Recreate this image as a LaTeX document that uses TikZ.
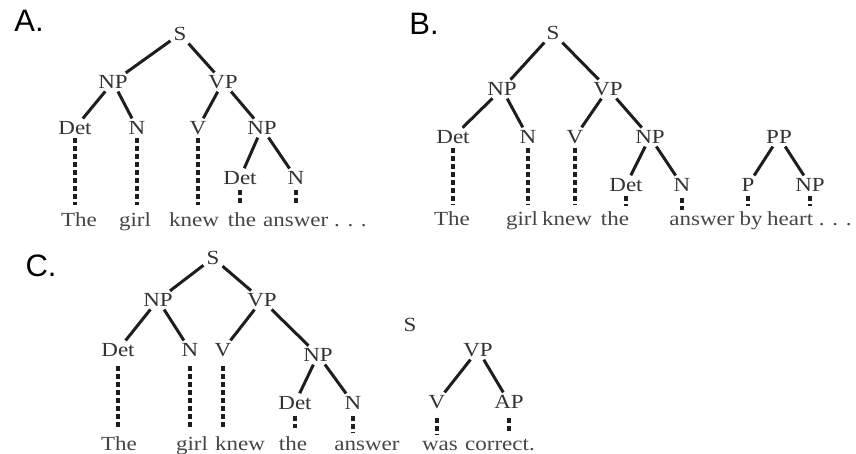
\documentclass[tikz,border=0pt]{standalone}
\usepackage{fontspec}
\setmainfont{Liberation Serif}
\newfontfamily\labelfont{Liberation Sans}
\definecolor{inkline}{HTML}{1E1E1E}
\definecolor{inktag}{HTML}{333333}
\definecolor{inkword}{HTML}{454545}
\begin{document}
\begin{tikzpicture}[x=1pt,y=-1pt,
  cat/.style={font=\fontsize{20}{22}\selectfont, text=inktag, inner sep=1.5pt, xscale=1.15},
  word/.style={font=\fontsize{20}{22}\selectfont, text=inkword, inner sep=0pt, anchor=base, xscale=1.15},
  panel/.style={font=\labelfont\fontsize{31}{34}\selectfont, text=black, inner sep=0pt},
  branch/.style={draw=inkline, line width=3pt, shorten <=1.5pt, shorten >=1.5pt},
  lexlink/.style={draw=inkline, line width=3.3pt, dash pattern=on 5pt off 3pt}]
\useasboundingbox (0,0) rectangle (856,453);

% ---------------- panel A ----------------
\node[panel] (labA) at (29,21) {A.};
\node[cat] (aS)    at (180,34)  {S};
\node[cat] (aNP)   at (113,82)  {NP};
\node[cat] (aVP)   at (223,82)  {VP};
\node[cat] (aDet)  at (75,128)  {Det};
\node[cat] (aN)    at (137,128) {N};
\node[cat] (aV)    at (198,128) {V};
\node[cat] (aNP2)  at (262,128) {NP};
\node[cat] (aDet2) at (240,178) {Det};
\node[cat] (aN2)   at (296,178) {N};
\node[word] (aw1) at (79,226)  {The};
\node[word] (aw2) at (135,226) {girl};
\node[word] (aw3) at (194,226) {knew};
\node[word] (aw4) at (242,226) {the};
\node[word, anchor=base west] (aw5) at (263,226) {answer . . .};
\draw[branch] (aS) -- (aNP);
\draw[branch] (aS) -- (aVP);
\draw[branch] (aNP) -- (aDet);
\draw[branch] (aNP) -- (aN);
\draw[branch] (aVP) -- (aV);
\draw[branch] (aVP) -- (aNP2);
\draw[branch] (aNP2) -- (aDet2);
\draw[branch] (aNP2) -- (aN2);
\draw[lexlink] (aDet.south) ++(0,2) -- ([yshift=7pt]aDet.south |- aw1.north);
\draw[lexlink] (aN.south) ++(0,2) -- ([yshift=7pt]aN.south |- aw2.north);
\draw[lexlink] (aV.south) ++(0,2) -- ([yshift=7pt]aV.south |- aw3.north);
\draw[lexlink] (aDet2.south) ++(0,4) -- ([yshift=7pt]aDet2.south |- aw4.north);
\draw[lexlink] (aN2.south) ++(0,4) -- ([yshift=7pt]aN2.south |- aw4.north);

% ---------------- panel B ----------------
\node[panel] (labB) at (424,24) {B.};
\node[cat] (bS)    at (553,33)  {S};
\node[cat] (bNP)   at (502,89)  {NP};
\node[cat] (bVP)   at (608,89)  {VP};
\node[cat] (bDet)  at (453,137) {Det};
\node[cat] (bN)    at (528,137) {N};
\node[cat] (bV)    at (575,137) {V};
\node[cat] (bNP2)  at (650,137) {NP};
\node[cat] (bPP)   at (779,137) {PP};
\node[cat] (bDet2) at (626,185) {Det};
\node[cat] (bN2)   at (682,185) {N};
\node[cat] (bP)    at (748,185) {P};
\node[cat] (bNP3)  at (810,185) {NP};
\node[word] (bw1) at (452,225) {The};
\node[word] (bw2) at (522,225) {girl};
\node[word] (bw3) at (567,225) {knew};
\node[word] (bw4) at (615,225) {the};
\node[word] (bw5) at (702,225) {answer};
\node[word] (bw6) at (751,225) {by};
\node[word, anchor=base west] (bw7) at (767,225) {heart . . .};
\draw[branch] (bS) -- (bNP);
\draw[branch] (bS) -- (bVP);
\draw[branch] (bNP) -- (bDet);
\draw[branch] (bNP) -- (bN);
\draw[branch] (bVP) -- (bV);
\draw[branch] (bVP) -- (bNP2);
\draw[branch] (bNP2) -- (bDet2);
\draw[branch] (bNP2) -- (bN2);
\draw[branch] (bPP) -- (bP);
\draw[branch] (bPP) -- (bNP3);
\draw[lexlink] (bDet.south) ++(0,3) -- ([yshift=6pt]bDet.south |- bw1.north);
\draw[lexlink] (bN.south) ++(0,3) -- ([yshift=6pt]bN.south |- bw2.north);
\draw[lexlink] (bV.south) ++(0,3) -- ([yshift=6pt]bV.south |- bw3.north);
\draw[lexlink] (bDet2.south) ++(0,3) -- ([yshift=5pt]bDet2.south |- bw4.north);
\draw[lexlink] (bN2.south) ++(0,5) -- ([yshift=5pt]bN2.south |- bw5.north);
\draw[lexlink] (bP.south) ++(0,3) -- ([yshift=5pt]bP.south |- bw6.north);
\draw[lexlink] (bNP3.south) ++(0,3) -- ([yshift=5pt]bNP3.south |- bw7.north);

% ---------------- panel C ----------------
\node[panel] (labC) at (41,266) {C.};
\node[cat] (cS)    at (213,258) {S};
\node[cat] (cNP)   at (158,300) {NP};
\node[cat] (cVP)   at (262,300) {VP};
\node[cat] (cDet)  at (118,350) {Det};
\node[cat] (cN)    at (190,350) {N};
\node[cat] (cV)    at (223,350) {V};
\node[cat] (cNP2)  at (318,355) {NP};
\node[cat] (cDet2) at (295,403) {Det};
\node[cat] (cN2)   at (353,403) {N};
\node[cat] (cS2)   at (410,325) {S};
\node[cat] (cVP3)  at (478,350) {VP};
\node[cat] (cV3)   at (437,402) {V};
\node[cat] (cAP)   at (509,402) {AP};
\node[word] (cw1) at (119,450) {The};
\node[word] (cw2) at (192,450) {girl};
\node[word] (cw3) at (240,450) {knew};
\node[word] (cw4) at (293,450) {the};
\node[word] (cw5) at (367,450) {answer};
\node[word] (cw6) at (440,450) {was};
\node[word] (cw7) at (500,450) {correct.};
\draw[branch] (cS) -- (cNP);
\draw[branch] (cS) -- (cVP);
\draw[branch] (cNP) -- (cDet);
\draw[branch] (cNP) -- (cN);
\draw[branch] (cVP) -- (cV);
\draw[branch] (cVP) -- (cNP2);
\draw[branch] (cNP2) -- (cDet2);
\draw[branch] (cNP2) -- (cN2);
\draw[branch] (cVP3) -- (cV3);
\draw[branch] (cVP3) -- (cAP);
\draw[lexlink] (cDet.south) ++(0,8) -- ([yshift=8pt]cDet.south |- cw1.north);
\draw[lexlink] (cN.south) ++(0,8) -- ([yshift=8pt]cN.south |- cw2.north);
\draw[lexlink] (cV.south) ++(0,8) -- ([yshift=8pt]cV.south |- cw3.north);
\draw[lexlink] (cDet2.south) ++(0,5) -- ([yshift=8pt]cDet2.south |- cw4.north);
\draw[lexlink] (cN2.south) ++(0,5) -- ([yshift=8pt]cN2.south |- cw5.north);
\draw[lexlink] (cV3.south) ++(0,8) -- ([yshift=5pt]cV3.south |- cw6.north);
\draw[lexlink] (cAP.south) ++(0,8) -- ([yshift=5pt]cAP.south |- cw7.north);
\end{tikzpicture}
\end{document}
